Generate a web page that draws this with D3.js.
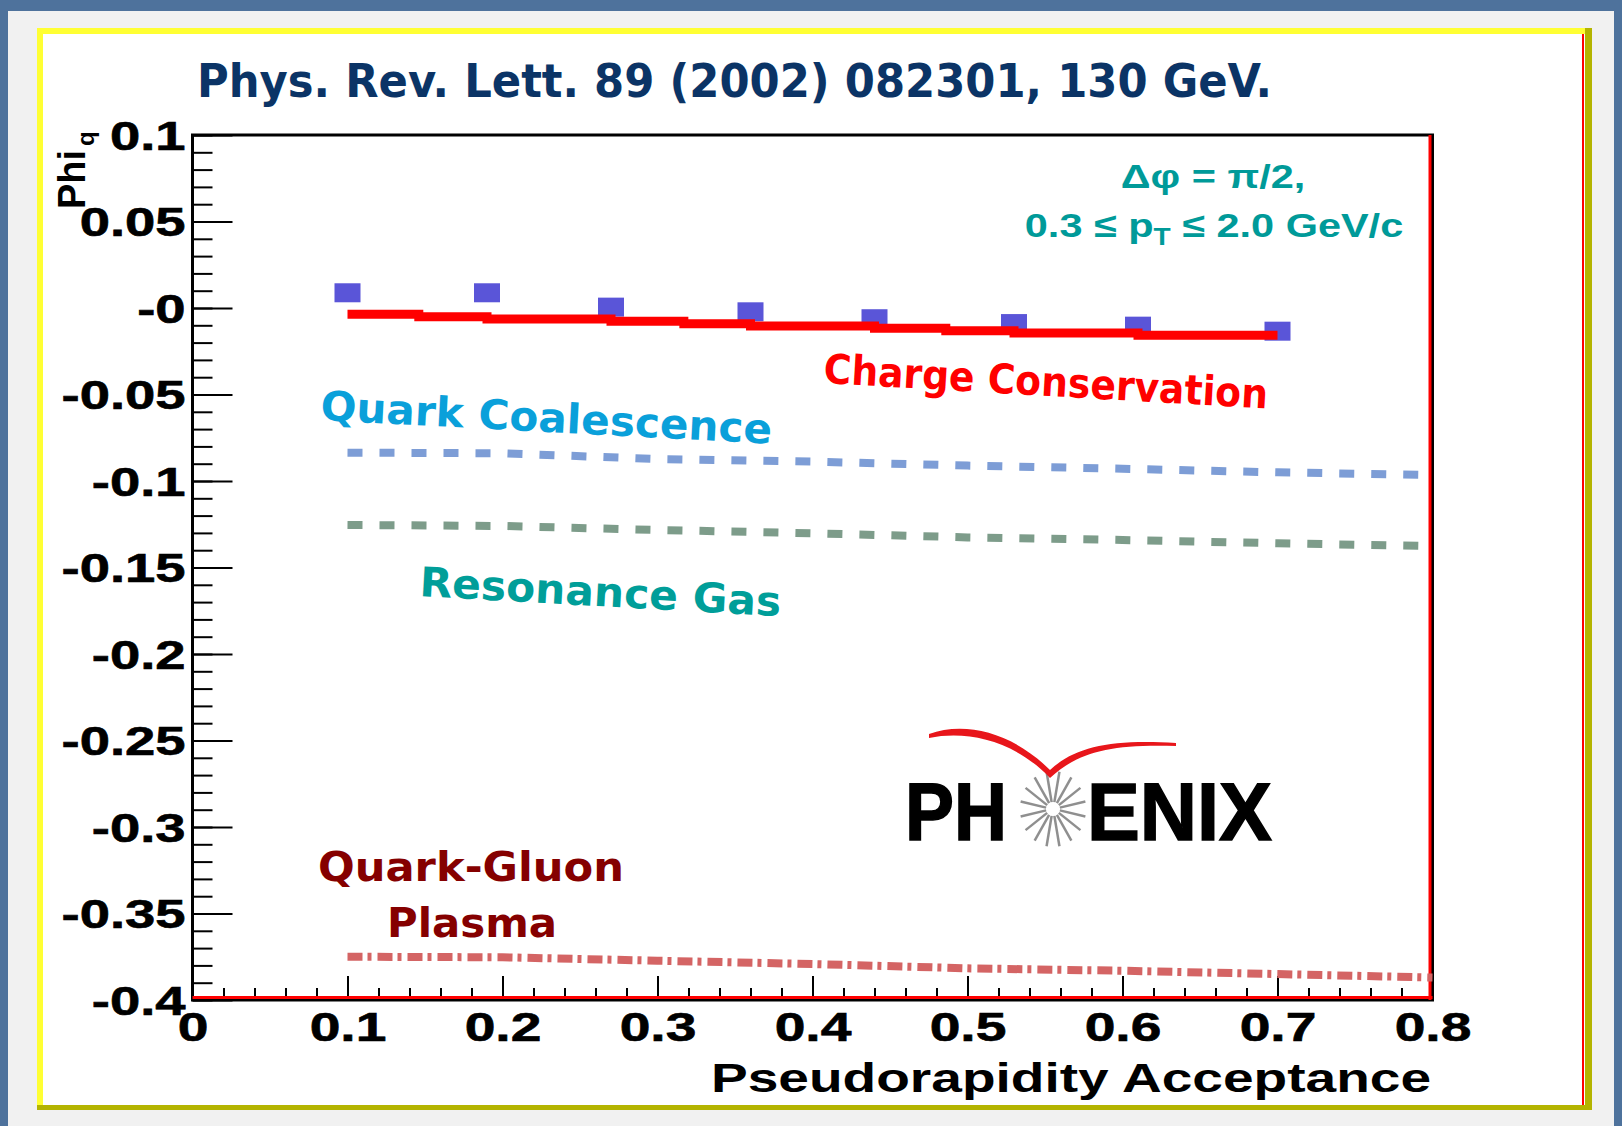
<!DOCTYPE html>
<html>
<head>
<meta charset="utf-8">
<script src="https://cdn.jsdelivr.net/npm/d3@7"></script>
<style>
  html, body { margin: 0; padding: 0; background: #4e729c; }
  svg { display: block; }
</style>
</head>
<body>
<svg id="chart" width="1622" height="1126"></svg>
<script>
// PHENIX charge fluctuations: Phi_q versus pseudorapidity acceptance (130 GeV)

// Measured points
const dataEta = [0.10, 0.19, 0.27, 0.36, 0.44, 0.53, 0.61, 0.70];
const dataPhi = [0.0088, 0.0088, 0.0005, -0.0022, -0.0062, -0.0090, -0.0105, -0.0134];

// Charge conservation expectation, drawn as a staircase
const ccEta = [0.10, 0.146, 0.19, 0.27, 0.317, 0.36, 0.44, 0.486, 0.53, 0.61, 0.70];
const ccPhi = [-0.0036, -0.0050, -0.0064, -0.0077, -0.0091, -0.0104, -0.0117, -0.0131, -0.0145, -0.0158, -0.0158];

// Model expectations
const modelEta = [0.10, 0.20, 0.30, 0.40, 0.50, 0.60, 0.70, 0.80];
const quarkCoalPhi = [-0.0836, -0.0840, -0.0873, -0.0888, -0.0911, -0.0929, -0.0950, -0.0965];
const resGasPhi = [-0.1254, -0.1260, -0.1283, -0.1302, -0.1326, -0.1341, -0.1360, -0.1376];
const qgpPhi = [-0.3750, -0.3753, -0.3773, -0.3792, -0.3817, -0.3831, -0.3850, -0.3870];

// Axis ticks
const xTicks = [0, 0.1, 0.2, 0.3, 0.4, 0.5, 0.6, 0.7, 0.8];
const xTickLabels = ["0", "0.1", "0.2", "0.3", "0.4", "0.5", "0.6", "0.7", "0.8"];
const yTicks = [0.1, 0.05, 0, -0.05, -0.1, -0.15, -0.2, -0.25, -0.3, -0.35, -0.4];
const yTickLabels = ["0.1", "0.05", "-0", "-0.05", "-0.1", "-0.15", "-0.2", "-0.25", "-0.3", "-0.35", "-0.4"];

const svg = d3.select("#chart");

// Slide background: grey panel, white card with yellow edge
svg.append("rect").attr("x", 0).attr("y", 0).attr("width", 1622).attr("height", 1126).attr("fill", "#4e729c");
svg.append("rect").attr("x", 8).attr("y", 11).attr("width", 1606).attr("height", 1115).attr("fill", "#f1f1f1");
svg.append("rect").attr("x", 37).attr("y", 28).attr("width", 1555).attr("height", 1082).attr("fill", "#b4b400");
svg.append("rect").attr("x", 37).attr("y", 28).attr("width", 1548).attr("height", 1077).attr("fill", "#ffff33");
svg.append("rect").attr("x", 43).attr("y", 34).attr("width", 1542).attr("height", 1071).attr("fill", "#ffffff");
svg.append("line").attr("x1", 1583).attr("x2", 1583).attr("y1", 34).attr("y2", 1105)
  .attr("stroke", "#ff0000").attr("stroke-width", 2);

// Title
svg.append("text")
  .attr("x", 197).attr("y", 97)
  .attr("textLength", 1075).attr("lengthAdjust", "spacingAndGlyphs")
  .attr("font-family", "DejaVu Sans").attr("font-weight", "bold").attr("font-size", 46)
  .attr("fill", "#0b3466")
  .text("Phys. Rev. Lett. 89 (2002) 082301, 130 GeV.");

// Scales
const x = d3.scaleLinear().domain([0, 0.8]).range([192.5, 1432.5]);
const y = d3.scaleLinear().domain([-0.4, 0.1]).range([1000, 135]);

const tickFont = "Liberation Sans";
const yStretch = 1.36;
const xStretch = 1.38;

// Minor ticks
svg.append("g").attr("transform", `translate(${x(0)},0)`)
  .call(d3.axisLeft(y).tickValues(d3.range(-40, 11).map(d => d / 100)).tickSize(-20).tickFormat(""))
  .call(g => g.select(".domain").remove())
  .call(g => g.selectAll("line").attr("stroke", "#000").attr("stroke-width", 2));
svg.append("g").attr("transform", `translate(0,${y(-0.4)})`)
  .call(d3.axisBottom(x).tickValues(d3.range(0, 41).map(d => d / 50)).tickSize(-12).tickFormat(""))
  .call(g => g.select(".domain").remove())
  .call(g => g.selectAll("line").attr("stroke", "#000").attr("stroke-width", 2));

// Major ticks with labels
svg.append("g").attr("transform", `translate(${x(0)},0)`)
  .call(d3.axisLeft(y).tickValues(yTicks).tickSize(-40).tickPadding(6)
    .tickFormat((d, i) => yTickLabels[i]))
  .call(g => g.select(".domain").remove())
  .call(g => g.selectAll("line").attr("stroke", "#000").attr("stroke-width", 2))
  .call(g => g.selectAll("text")
    .attr("font-family", tickFont).attr("font-weight", "bold").attr("font-size", 40)
    .attr("fill", "#000").attr("stroke", "#000").attr("stroke-width", 0.6)
    .attr("x", -7 / yStretch).attr("dy", "0.36em")
    .attr("transform", `scale(${yStretch},1)`));

svg.append("g").attr("transform", `translate(0,${y(-0.4)})`)
  .call(d3.axisBottom(x).tickValues(xTicks).tickSize(-24).tickPadding(13)
    .tickFormat((d, i) => xTickLabels[i]))
  .call(g => g.select(".domain").remove())
  .call(g => g.selectAll("line").attr("stroke", "#000").attr("stroke-width", 2))
  .call(g => g.selectAll("text")
    .attr("font-family", tickFont).attr("font-weight", "bold").attr("font-size", 40)
    .attr("fill", "#000").attr("stroke", "#000").attr("stroke-width", 0.6)
    .attr("transform", `scale(${xStretch},1)`));

// Frame
const frame = svg.append("g");
frame.append("rect")
  .attr("x", x(0)).attr("y", y(0.1))
  .attr("width", x(0.8) - x(0)).attr("height", y(-0.4) - y(0.1))
  .attr("fill", "none").attr("stroke", "#000").attr("stroke-width", 3);
frame.append("line").attr("x1", x(0)).attr("x2", x(0.8)).attr("y1", y(-0.4) - 2.5).attr("y2", y(-0.4) - 2.5)
  .attr("stroke", "#ff0000").attr("stroke-width", 3);
frame.append("line").attr("x1", x(0.8) - 2.5).attr("x2", x(0.8) - 2.5).attr("y1", y(0.1)).attr("y2", y(-0.4))
  .attr("stroke", "#ff0000").attr("stroke-width", 3);

// Model curves
const modelLine = d3.line().x((d, i) => x(modelEta[i])).y(d => y(d));
svg.append("path").datum(quarkCoalPhi).attr("d", modelLine)
  .attr("fill", "none").attr("stroke", "#7d9dd6").attr("stroke-width", 8)
  .attr("stroke-dasharray", "15 17");
svg.append("path").datum(resGasPhi).attr("d", modelLine)
  .attr("fill", "none").attr("stroke", "#7d9c8a").attr("stroke-width", 8)
  .attr("stroke-dasharray", "15 17");
svg.append("path").datum(qgpPhi).attr("d", modelLine)
  .attr("fill", "none").attr("stroke", "#d46464").attr("stroke-width", 8)
  .attr("stroke-dasharray", "15 5 4 6");

// Data points
svg.append("g").selectAll("rect").data(dataPhi).join("rect")
  .attr("x", (d, i) => x(dataEta[i]) - 13).attr("y", d => y(d) - 9.5)
  .attr("width", 26).attr("height", 19)
  .attr("fill", "#5a55d8");

// Charge conservation staircase
const ccLine = d3.line().curve(d3.curveStepAfter).x((d, i) => x(ccEta[i])).y(d => y(d));
svg.append("path").datum(ccPhi).attr("d", ccLine)
  .attr("fill", "none").attr("stroke", "#ff0000").attr("stroke-width", 9);

// Curve labels
const labelFont = "DejaVu Sans";
function label(txt, px, py, angle, len, color) {
  svg.append("text")
    .attr("transform", `translate(${px},${py}) rotate(${angle})`)
    .attr("textLength", len).attr("lengthAdjust", "spacingAndGlyphs")
    .attr("font-family", labelFont).attr("font-weight", "bold").attr("font-size", 41)
    .attr("fill", color).text(txt);
}
label("Charge Conservation", 823, 383, 3.3, 445, "#ff0000");
label("Quark Coalescence", 320, 420, 3.0, 452, "#0aa0da");
label("Resonance Gas", 419, 596, 3.2, 362, "#009e99");
label("Quark-Gluon", 318, 881, 0, 306, "#850000");
label("Plasma", 387, 937, 0, 170, "#850000");

// Cut annotation
const cut = svg.append("g").attr("fill", "#009a99")
  .attr("font-family", "Liberation Sans").attr("font-weight", "bold").attr("font-size", 34);
cut.append("text").attr("transform", `translate(1213,188) scale(1.22,1)`)
  .attr("text-anchor", "middle").text("Δφ = π/2,");
const l2 = cut.append("text").attr("transform", `translate(1214,237) scale(1.22,1)`)
  .attr("text-anchor", "middle");
l2.append("tspan").text("0.3 ≤ p");
l2.append("tspan").attr("font-size", 23).attr("dy", 8).text("T");
l2.append("tspan").attr("dy", -8).text(" ≤ 2.0 GeV/c");

// Axis titles
svg.append("text")
  .attr("x", 711).attr("y", 1092)
  .attr("textLength", 720).attr("lengthAdjust", "spacingAndGlyphs")
  .attr("font-family", tickFont).attr("font-weight", "bold").attr("font-size", 41)
  .attr("fill", "#000").text("Pseudorapidity Acceptance");

const yt = svg.append("text")
  .attr("transform", "translate(85,209) rotate(-90)")
  .attr("font-family", tickFont).attr("font-weight", "bold").attr("font-size", 38)
  .attr("fill", "#000");
yt.append("tspan").text("Phi");
yt.append("tspan").attr("font-size", 24).attr("dx", 4).attr("dy", 9).text("q");

// PHENIX logo
const logo = svg.append("g");
logo.append("text").attr("x", 905).attr("y", 840)
  .attr("textLength", 102).attr("lengthAdjust", "spacingAndGlyphs")
  .attr("font-family", tickFont).attr("font-weight", "bold").attr("font-size", 81)
  .attr("fill", "#000").attr("stroke", "#000").attr("stroke-width", 1.5).text("PH");
logo.append("text").attr("x", 1087).attr("y", 840)
  .attr("textLength", 185).attr("lengthAdjust", "spacingAndGlyphs")
  .attr("font-family", tickFont).attr("font-weight", "bold").attr("font-size", 81)
  .attr("fill", "#000").attr("stroke", "#000").attr("stroke-width", 1.5).text("ENIX");
const cx = 1053, cy = 809;
logo.append("g").selectAll("line").data(d3.range(16)).join("line")
  .attr("x1", d => cx + 7 * Math.cos(d * Math.PI / 8 + Math.PI / 16))
  .attr("y1", d => cy + 7 * Math.sin(d * Math.PI / 8 + Math.PI / 16))
  .attr("x2", d => cx + 33 * Math.cos(d * Math.PI / 8 + Math.PI / 16))
  .attr("y2", d => cy + 38 * Math.sin(d * Math.PI / 8 + Math.PI / 16))
  .attr("stroke", "#8f8f8f").attr("stroke-width", 2.5);
logo.append("path")
  .attr("d", "M929,734 C965,721 1012,732 1050,770 C1075,747 1110,739 1176,743 L1176,746 C1110,744 1078,752 1050,778 C1015,741 968,730 929,738 Z")
  .attr("fill", "#e8161b");
</script>
</body>
</html>
